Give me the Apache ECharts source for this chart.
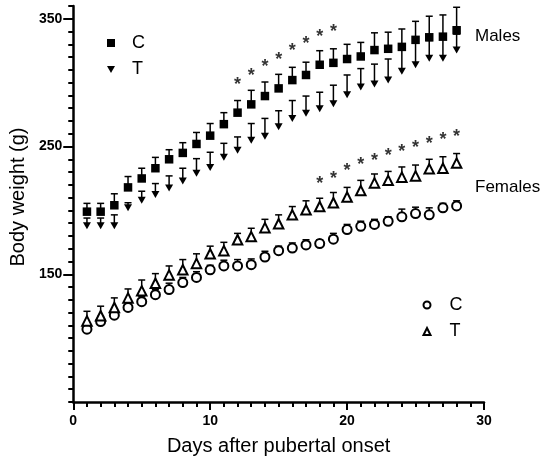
<!DOCTYPE html>
<html>
<head>
<meta charset="utf-8">
<script src="https://cdn.jsdelivr.net/npm/echarts@6/dist/echarts.min.js"></script>
<style>
html, body { margin: 0; padding: 0; background: #fff; }
#chart { width: 550px; height: 461px; }
</style>
</head>
<body>
<div id="chart"></div>
<script>
var days = [1, 2, 3, 4, 5, 6, 7, 8, 9, 10, 11, 12, 13, 14, 15, 16, 17, 18, 19, 20, 21, 22, 23, 24, 25, 26, 27, 28];

var maleCMean = [199, 199, 204, 218, 225, 233, 240, 245, 252, 258.5, 267.5, 276.5, 283, 289.5, 295.5, 302, 306, 314, 315.5, 318.5, 320.5, 325.5, 326.5, 328, 333.5, 335.5, 336, 341];
var maleCUpper = [205.5, 205.5, 213, 226.5, 233, 241.5, 247.5, 253, 261, 268, 276.5, 286, 294, 300.5, 306.5, 312, 316, 325, 326.5, 330, 331.5, 339, 339.5, 342, 348, 352, 353, 359];
var maleTMean = [188, 188, 188, 202, 208, 212.5, 217.5, 223, 229, 233.5, 241.5, 247, 255, 258, 265.5, 272, 276, 279.5, 283.5, 290.5, 296.5, 299, 302, 309, 314, 319, 319, 325.5];
var maleTUpper = [194, 194, 196.5, 206, 215, 221, 227, 233, 240.5, 245.5, 252.5, 257.5, 268, 272, 278, 286, 289.5, 292.5, 298, 306, 311, 314.5, 318.5, 326, 331, 333, 334, 338];

var femaleCMean = [107, 113, 118, 124, 128.5, 134, 138, 143.5, 147.5, 153.5, 156.5, 156.5, 157.5, 163.5, 168.5, 170.5, 173, 174, 177.5, 185, 187.5, 189, 191.5, 195, 197.5, 196.5, 202, 203.5];
var femaleCUpper = [111, 117, 122, 128, 132.5, 138, 143, 147.5, 152, 157, 161, 161.5, 162, 168, 172, 174.5, 177, 177, 182, 189, 191.5, 193, 195, 201, 202.5, 202, 205.5, 207.5];
var femaleTMean = [113.5, 117.5, 124, 131.5, 137, 143, 149.5, 153.5, 158.5, 166, 168.5, 177, 179.5, 186.5, 189.5, 196.5, 200.5, 203, 206, 210.5, 215.5, 221.5, 223.5, 226, 227, 232.5, 233, 237];
var femaleTUpper = [121, 125, 131.5, 138.5, 145.5, 150.5, 156.5, 161.5, 166, 172, 175, 182, 186, 193, 196.5, 203, 207.5, 209.5, 214, 218, 223.5, 228.5, 230.5, 234, 235.5, 240, 242, 244.5];

var maleStarDays = [12, 13, 14, 15, 16, 17, 18, 19];
var maleStarY = [301, 308, 315, 320.5, 328, 333.5, 339, 342.5];
var femaleStarDays = [18, 19, 20, 21, 22, 23, 24, 25, 26, 27, 28];
var femaleStarY = [223.5, 228, 234, 238.5, 242, 245.5, 248.5, 252, 255, 258.5, 260.5];

var xTickLabels = [0, 10, 20, 30];
var yTickLabels = [150, 250, 350];

var FONT = 'Liberation Sans, Arial, sans-serif';

function points(mean) {
	return days.map(function(d, i) {
		return [ d, mean[i] ];
	});
}

function bars(mean, upper) {
	return days.map(function(d, i) {
		return [ d, mean[i], upper[i] ];
	});
}

function errorSeries(name, mean, upper) {
	return {
		name : name + ' SD',
		type : 'custom',
		z : 1,
		silent : true,
		renderItem : function(params, api) {
			var lo = api.coord([ api.value(0), api.value(1) ]);
			var hi = api.coord([ api.value(0), api.value(2) ]);
			var st = {
				stroke : '#000',
				lineWidth : 1.5
			};
			return {
				type : 'group',
				children : [ {
					type : 'line',
					shape : { x1 : lo[0], y1 : lo[1], x2 : hi[0], y2 : hi[1] },
					style : st
				}, {
					type : 'line',
					shape : { x1 : hi[0] - 3.5, y1 : hi[1], x2 : hi[0] + 3.5, y2 : hi[1] },
					style : st
				} ]
			};
		},
		data : bars(mean, upper)
	};
}

function starSeries(xs, ys) {
	return {
		type : 'scatter',
		symbolSize : 0,
		silent : true,
		label : {
			show : true,
			position : 'inside',
			formatter : '*',
			fontSize : 18,
			fontWeight : 'bold',
			fontFamily : FONT,
			color : '#000',
			offset : [ 0, 4 ]
		},
		data : xs.map(function(d, i) {
			return [ d, ys[i] ];
		})
	};
}

var downTri = 'path://M0,0 L10,0 L5,8.66 Z';

var option = {
	animation : false,
	backgroundColor : '#fff',
	textStyle : { fontFamily : FONT },
	grid : {
		left : 67,
		right : 66,
		top : 6,
		bottom : 59
	},
	legend : [ {
		orient : 'vertical',
		left : 107,
		top : 34,
		padding : 0,
		itemGap : 8.5,
		itemWidth : 8,
		itemHeight : 8,
		selectedMode : false,
		data : [ 'Males C', 'Males T' ],
		formatter : function(name) {
			return name.split(' ')[1];
		},
		textStyle : {
			fontSize : 18,
			lineHeight : 18,
			color : '#000',
			fontFamily : FONT,
			padding : [ 0, 0, 0, 12 ]
		}
	}, {
		orient : 'vertical',
		left : 422.5,
		top : 296,
		padding : 0,
		itemGap : 8.5,
		itemWidth : 7,
		itemHeight : 7,
		selectedMode : false,
		data : [ 'Females C', 'Females T' ],
		formatter : function(name) {
			return name.split(' ')[1];
		},
		itemStyle : { borderWidth : 0.9 },
		textStyle : {
			fontSize : 18,
			lineHeight : 18,
			color : '#000',
			fontFamily : FONT,
			padding : [ 0, 0, 0, 14 ]
		}
	} ],
	xAxis : {
		type : 'value',
		min : 0,
		max : 30,
		interval : 10,
		name : 'Days after pubertal onset',
		nameLocation : 'middle',
		nameGap : 34,
		nameTextStyle : { fontSize : 20, color : '#000', fontFamily : FONT },
		splitLine : { show : false },
		axisLine : { lineStyle : { color : '#000', width : 2.5 } },
		axisTick : { length : 8, lineStyle : { color : '#000', width : 2 } },
		minorTick : { show : true, splitNumber : 10, length : 5, lineStyle : { color : '#000', width : 2 } },
		axisLabel : {
			customValues : xTickLabels,
			margin : 12,
			fontSize : 14,
			fontWeight : 'bold',
			color : '#000',
			fontFamily : FONT
		}
	},
	yAxis : [ {
		type : 'value',
		min : 50,
		max : 360,
		interval : 10,
		position : 'left',
		name : 'Body weight (g)',
		nameLocation : 'middle',
		nameGap : 42,
		nameTextStyle : { fontSize : 20, color : '#000', fontFamily : FONT, padding : [ 0, 0, 0, 14 ] },
		splitLine : { show : false },
		axisLine : { lineStyle : { color : '#000', width : 2.5 } },
		axisTick : { length : 5, lineStyle : { color : '#000', width : 2 } },
		axisLabel : {
			customValues : yTickLabels,
			margin : 11,
			fontSize : 14,
			fontWeight : 'bold',
			color : '#000',
			fontFamily : FONT
		}
	}, {
		type : 'value',
		min : 50,
		max : 360,
		position : 'left',
		splitLine : { show : false },
		axisLine : { show : false },
		axisLabel : { show : false },
		axisTick : { customValues : yTickLabels, length : 10, lineStyle : { color : '#000', width : 2 } }
	} ],
	graphic : [ {
		type : 'text',
		left : 475,
		top : 28,
		style : { text : 'Males', fontSize : 17, fill : '#000', fontFamily : FONT }
	}, {
		type : 'text',
		left : 475,
		top : 179,
		style : { text : 'Females', fontSize : 17, fill : '#000', fontFamily : FONT }
	} ],
	series : [
		errorSeries('Males C', maleCMean, maleCUpper),
		errorSeries('Males T', maleTMean, maleTUpper),
		errorSeries('Females C', femaleCMean, femaleCUpper),
		errorSeries('Females T', femaleTMean, femaleTUpper),
		{
			name : 'Males C',
			type : 'scatter',
			z : 3,
			symbol : 'rect',
			symbolSize : 8.5,
			itemStyle : { color : '#000', opacity : 1 },
			data : points(maleCMean)
		}, {
			name : 'Males T',
			type : 'scatter',
			z : 3,
			symbol : downTri,
			symbolSize : [ 8, 7 ],
			itemStyle : { color : '#000', opacity : 1 },
			data : points(maleTMean)
		}, {
			name : 'Females C',
			type : 'scatter',
			z : 3,
			symbol : 'emptyCircle',
			symbolSize : 9,
			itemStyle : { color : '#000', borderWidth : 1, opacity : 1 },
			data : points(femaleCMean)
		}, {
			name : 'Females T',
			type : 'scatter',
			z : 3,
			symbol : 'emptyTriangle',
			symbolSize : 9.5,
			itemStyle : { color : '#000', borderWidth : 1, opacity : 1 },
			data : points(femaleTMean)
		},
		starSeries(maleStarDays, maleStarY),
		starSeries(femaleStarDays, femaleStarY)
	]
};

var chart = echarts.init(document.getElementById('chart'));
chart.setOption(option);
</script>
</body>
</html>
